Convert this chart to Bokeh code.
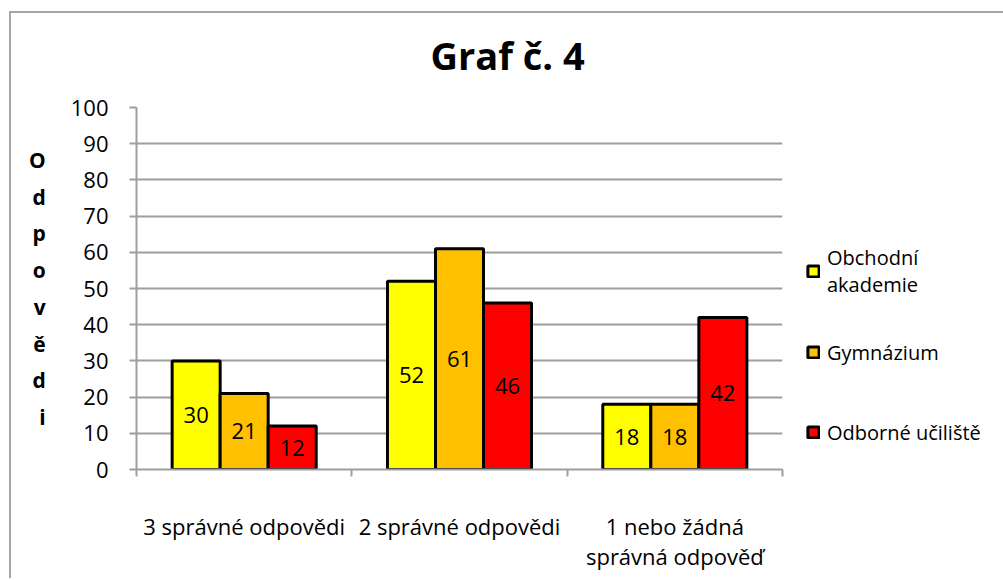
import numpy as np
from bokeh.plotting import figure
from bokeh.models import ColumnDataSource, FixedTicker, Legend, LegendItem, LabelSet, Range1d
from bokeh.transform import dodge
from bokeh.core.properties import value
from bokeh.embed import file_html
from bokeh.resources import INLINE

# ---- data ----
categories = ["3 správné odpovědi", "2 správné odpovědi", "1 nebo žádná\nsprávná odpověď"]
series_names = ["Obchodní\nakademie", "Gymnázium", "Odborné učiliště"]
obchodni_akademie = [30, 52, 18]
gymnazium = [21, 61, 18]
odborne_uciliste = [12, 46, 42]
series_values = [obchodni_akademie, gymnazium, odborne_uciliste]
colors = ["#FFFF00", "#FFC000", "#FF0000"]
y_ticks = [0, 10, 20, 30, 40, 50, 60, 70, 80, 90, 100]
title_text = "Graf č. 4"
y_title = "Odpovědi"

FONT = "Open Sans"
GRID = "#9e9e9e"
FRAME_LINE = "#a6a6a6"
BAR_W = 0.223
FS = "22px"

pos = np.arange(len(categories)) + 0.5
boundaries = list(range(len(categories) + 1))

p = figure(frame_width=646, frame_height=362,
           x_range=Range1d(0, len(categories)), y_range=Range1d(0, 100),
           output_backend="svg", toolbar_location=None,
           min_border_left=136, min_border_right=219,
           min_border_top=107, min_border_bottom=109)
# chart-area border (left and top edges) painted behind a transparent canvas
grad = f"linear-gradient({FRAME_LINE}, {FRAME_LINE})"
p.styles = {
    "background-image": f"{grad}, {grad}",
    "background-position": "9px 11px, 9px 11px",
    "background-size": "2px 100%, 100% 2px",
    "background-repeat": "no-repeat, no-repeat",
}
p.outline_line_color = None
p.background_fill_color = "white"
p.border_fill_color = None

# title
p.title.text = title_text
p.title.text_font = FONT
p.title.text_font_style = "bold"
p.title.text_font_size = "38px"
p.title.text_color = "black"
p.title.align = "left"
p.title.offset = 294
p.title.standoff = 53

# y axis
ya = p.yaxis[0]
ya.ticker = FixedTicker(ticks=y_ticks)
ya.major_tick_out = 7
ya.major_tick_in = 0
ya.minor_tick_line_color = None
ya.axis_line_color = GRID
ya.axis_line_width = 2
ya.major_tick_line_color = GRID
ya.major_tick_line_width = 2
ya.major_label_text_font = FONT
ya.major_label_text_font_size = FS
ya.major_label_text_color = "black"
ya.major_label_standoff = 21
ya.axis_label = "\n".join(list(y_title))
ya.axis_label_orientation = "horizontal"
ya.axis_label_text_font = FONT
ya.axis_label_text_font_style = "bold"
ya.axis_label_text_font_size = "21px"
ya.axis_label_text_line_height = 1.31
ya.axis_label_text_color = "black"
ya.axis_label_standoff = 22

# x axis
xa = p.xaxis[0]
xa.ticker = FixedTicker(ticks=list(pos), minor_ticks=boundaries)
xa.major_label_overrides = {float(x): c for x, c in zip(pos, categories)}
xa.major_tick_line_color = None
xa.major_tick_out = 0
xa.major_tick_in = 0
xa.minor_tick_out = 7
xa.minor_tick_in = 0
xa.minor_tick_line_color = GRID
xa.minor_tick_line_width = 2
xa.axis_line_color = GRID
xa.axis_line_width = 2
xa.major_label_text_font = FONT
xa.major_label_text_font_size = FS
xa.major_label_text_line_height = 1.02
xa.major_label_text_color = "black"
xa.major_label_standoff = 34

p.xgrid.grid_line_color = None
p.ygrid.ticker = FixedTicker(ticks=y_ticks)
p.ygrid.grid_line_color = GRID
p.ygrid.grid_line_width = 2

offsets = [-BAR_W, 0.0, BAR_W]
items = []
for name, vals, col, off in zip(series_names, series_values, colors, offsets):
    src = ColumnDataSource(dict(pos=pos, val=vals,
                                mid=[v / 2 for v in vals],
                                txt=[str(v) for v in vals]))
    r = p.vbar(x=dodge("pos", off, range=p.x_range), top="val", width=BAR_W,
               source=src, fill_color=col, line_color="black", line_width=3)
    lbl = LabelSet(x=dodge("pos", off, range=p.x_range), y="mid", text="txt",
                   source=src, text_align="center", text_baseline="middle",
                   text_font=value(FONT), text_font_size=FS, text_color="black")
    p.add_layout(lbl)
    items.append(LegendItem(label=name, renderers=[r]))

legend = Legend(items=items, location=(24, 11), orientation="vertical",
                padding=0, margin=0, spacing=28, label_height=52,
                glyph_height=14, glyph_width=14, label_standoff=7,
                border_line_color=None, background_fill_alpha=0,
                label_text_font=FONT, label_text_font_size="20px",
                label_text_color="black")
p.add_layout(legend, "right")

open("out.html", "w").write(file_html(p, INLINE))
